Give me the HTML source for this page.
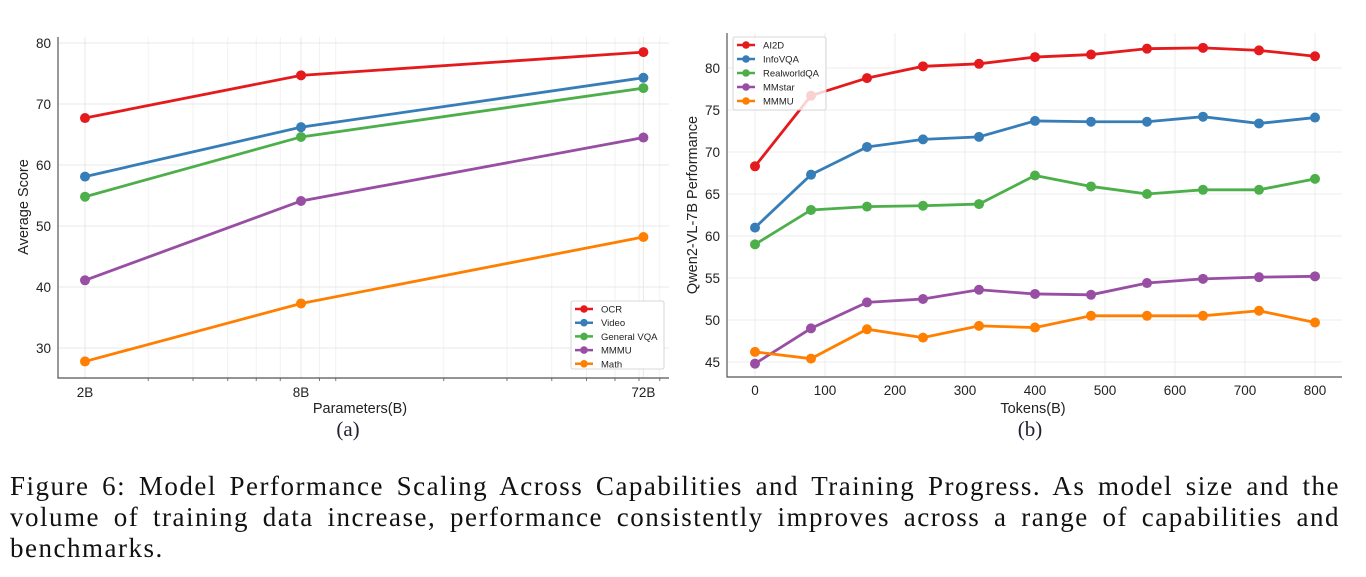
<!DOCTYPE html>
<html><head><meta charset="utf-8"><style>
body{margin:0;background:#fff;width:1366px;height:577px;overflow:hidden}
svg{position:absolute;left:0;top:0}
.cap{position:absolute;left:10px;top:471px;width:1330px;font-family:"Liberation Serif",serif;font-size:27px;line-height:31px;color:#111;letter-spacing:1.5px}
.cap div{white-space:nowrap}
.cap .j{text-align:justify;text-align-last:justify}
</style></head><body>
<svg id="chart" width="1366" height="577" font-family="Liberation Sans, sans-serif"></svg>
<div class="cap"><div class="j">Figure 6: Model Performance Scaling Across Capabilities and Training Progress. As model size and the</div><div class="j">volume of training data increase, performance consistently improves across a range of capabilities and</div><div>benchmarks.</div></div>
<script>
const catsA=[2,8,72];
const tickLabelsA=["2B","8B","72B"];
const seriesNamesA=["OCR","Video","General VQA","MMMU","Math"];
const ocr=[67.7,74.7,78.5];
const video=[58.1,66.2,74.3];
const gvqa=[54.8,64.6,72.6];
const mmmuA=[41.1,54.1,64.5];
const math=[27.8,37.3,48.2];
const yTicksA=[30,40,50,60,70,80];

const tokens=[0,80,160,240,320,400,480,560,640,720,800];
const xTicksB=[0,100,200,300,400,500,600,700,800];
const yTicksB=[45,50,55,60,65,70,75,80];
const seriesNamesB=["AI2D","InfoVQA","RealworldQA","MMstar","MMMU"];
const ai2d=[68.3,76.7,78.8,80.2,80.5,81.3,81.6,82.3,82.4,82.1,81.4];
const infovqa=[61.0,67.3,70.6,71.5,71.8,73.7,73.6,73.6,74.2,73.4,74.1];
const realworld=[59.0,63.1,63.5,63.6,63.8,67.2,65.9,65.0,65.5,65.5,66.8];
const mmstar=[44.8,49.0,52.1,52.5,53.6,53.1,53.0,54.4,54.9,55.1,55.2];
const mmmuB=[46.2,45.4,48.9,47.9,49.3,49.1,50.5,50.5,50.5,51.1,49.7];

const colors=["#e41a1c","#377eb8","#4daf4a","#984ea3","#ff7f00"];
const svg=document.getElementById('chart');
const NS="http://www.w3.org/2000/svg";
function el(t,a,txt){const e=document.createElementNS(NS,t);for(const k in a)e.setAttribute(k,a[k]);if(txt!==undefined)e.textContent=txt;svg.appendChild(e);return e;}

const A={l:58,r:669,t:37,b:378};
const lx0=Math.log10(2)-27/358.8, lx1=Math.log10(2)+(669-85)/358.8;
const xA=v=>A.l+(Math.log10(v)-lx0)/(lx1-lx0)*(A.r-A.l);
const yA=v=>43+(80-v)*6.1;
[3,4,5,6,7,9,10,20,30,40,50,60,70,80].forEach(m=>{const g=el('line',{x1:xA(m),x2:xA(m),y1:A.t,y2:A.b,stroke:'#eee','stroke-width':0.8});
const t=el('line',{x1:xA(m),x2:xA(m),y1:A.b,y2:A.b+3,stroke:'#555','stroke-width':0.8});});
catsA.forEach((c,i)=>{const g=el('line',{x1:xA(c),x2:xA(c),y1:A.t,y2:A.b,stroke:'#e8e8e8','stroke-width':1});
const t=el('text',{x:xA(c),y:A.b+19,'font-size':13.5,'text-anchor':'middle',fill:'#222'},tickLabelsA[i]);});
yTicksA.forEach(v=>{const g=el('line',{x1:A.l,x2:A.r,y1:yA(v),y2:yA(v),stroke:'#e8e8e8','stroke-width':1});
const t=el('text',{x:A.l-7,y:yA(v)+5,'font-size':13.5,'text-anchor':'end',fill:'#222'},v);});
let s=el('path',{d:`M${A.l},${A.t}V${A.b}H${A.r}`,fill:'none',stroke:'#555','stroke-width':1.2});
[ocr,video,gvqa,mmmuA,math].forEach((arr,si)=>{
 const p=el('polyline',{points:arr.map((v,i)=>xA(catsA[i])+','+yA(v)).join(' '),fill:'none',stroke:colors[si],'stroke-width':2.8});
 
 arr.forEach((v,i)=>{const c=el('circle',{cx:xA(catsA[i]),cy:yA(v),r:5,fill:colors[si]});});
});
let t1=el('text',{x:360,y:413,'font-size':14.5,'text-anchor':'middle',fill:'#222'},'Parameters(B)');
let t2=el('text',{x:28,y:207,'font-size':14.5,'text-anchor':'middle',fill:'#222',transform:'rotate(-90 28 207)'},'Average Score');
let t3=el('text',{x:348,y:436,'font-size':21,'text-anchor':'middle',fill:'#223','font-family':'Liberation Serif, serif'},'(a)');
let lb=el('rect',{x:571,y:301,width:93,height:68,fill:'#fff',stroke:'#ccc','stroke-width':0.8,rx:2});
seriesNamesA.forEach((n,i)=>{const y=309+i*13.7;
 const l=el('line',{x1:575,x2:593,y1:y,y2:y,stroke:colors[i],'stroke-width':2.5});
 const c=el('circle',{cx:584,cy:y,r:3.8,fill:colors[i]});
 const t=el('text',{x:601,y:y+3.5,'font-size':9.5,fill:'#222'},n);});

const B={l:727,r:1342,t:33,b:377};
const xB=v=>755+v*(1315-755)/800;
const yB=v=>68+(80-v)*8.4;
xTicksB.forEach(v=>{const g=el('line',{x1:xB(v),x2:xB(v),y1:B.t,y2:B.b,stroke:'#ececec','stroke-width':1});
const t=el('text',{x:xB(v),y:B.b+18,'font-size':13.5,'text-anchor':'middle',fill:'#222'},v);});
yTicksB.forEach(v=>{const g=el('line',{x1:B.l,x2:B.r,y1:yB(v),y2:yB(v),stroke:'#ececec','stroke-width':1});
const t=el('text',{x:B.l-7,y:yB(v)+5,'font-size':13.5,'text-anchor':'end',fill:'#222'},v);});
s=el('path',{d:`M${B.l},${B.t}V${B.b}H${B.r}`,fill:'none',stroke:'#555','stroke-width':1.2});
[ai2d,infovqa,realworld,mmstar,mmmuB].forEach((arr,si)=>{
 const p=el('polyline',{points:arr.map((v,i)=>xB(tokens[i])+','+yB(v)).join(' '),fill:'none',stroke:colors[si],'stroke-width':2.8});
 
 arr.forEach((v,i)=>{const c=el('circle',{cx:xB(tokens[i]),cy:yB(v),r:5,fill:colors[si]});});
});
let lb2=el('rect',{x:733,y:37,width:93,height:73,fill:'#fff','fill-opacity':0.8,stroke:'#ccc','stroke-width':0.8,rx:2});
seriesNamesB.forEach((n,i)=>{const y=45+i*14;
 const l=el('line',{x1:737,x2:755,y1:y,y2:y,stroke:colors[i],'stroke-width':2.5});
 const c=el('circle',{cx:746,cy:y,r:3.8,fill:colors[i]});
 const t=el('text',{x:763,y:y+3.5,'font-size':9.5,fill:'#222'},n);});
let t4=el('text',{x:1033,y:413,'font-size':14.5,'text-anchor':'middle',fill:'#222'},'Tokens(B)');
let t5=el('text',{x:697,y:205,'font-size':14.5,'text-anchor':'middle',fill:'#222',transform:'rotate(-90 697 205)'},'Qwen2-VL-7B Performance');
let t6=el('text',{x:1030,y:436,'font-size':21,'text-anchor':'middle',fill:'#223','font-family':'Liberation Serif, serif'},'(b)');
</script>
</body></html>
